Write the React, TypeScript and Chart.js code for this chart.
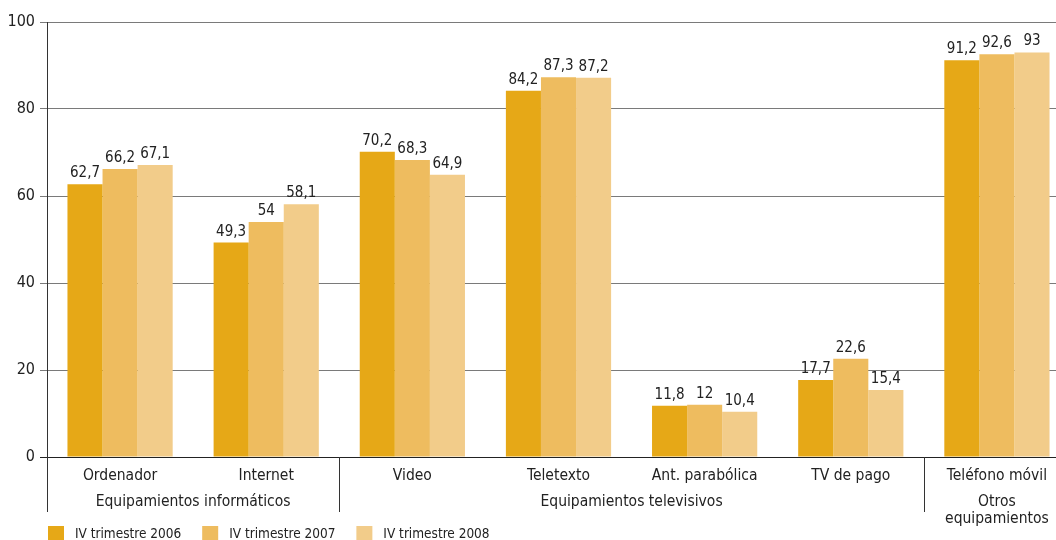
import React, { useEffect, useRef } from 'react';
import { Chart, registerables } from 'chart.js';
Chart.register(...registerables);

const FONT = "'DejaVu Sans Condensed', 'Liberation Sans Narrow', sans-serif";
const TEXT = '#222222';

const categories = ['Ordenador', 'Internet', 'Video', 'Teletexto', 'Ant. parabólica', 'TV de pago', 'Teléfono móvil'];
const seriesLabels = ['IV trimestre 2006', 'IV trimestre 2007', 'IV trimestre 2008'];
const s2006 = [62.7, 49.3, 70.2, 84.2, 11.8, 17.7, 91.2];
const s2007 = [66.2, 54, 68.3, 87.3, 12, 22.6, 92.6];
const s2008 = [67.1, 58.1, 64.9, 87.2, 10.4, 15.4, 93];
const seriesColors = ['#E6A817', '#EEBC5F', '#F2CC8A'];
const groupLabels = [['Equipamientos informáticos'], ['Equipamientos televisivos'], ['Otros', 'equipamientos']];
const groupFrom = [0, 2, 6];
const groupTo = [1, 5, 6];
const yMin = 0;
const yMax = 100;
const yStep = 20;

const fmt = (v: number) => String(v).replace('.', ',');

const overlay = {
  id: 'overlay',
  afterDraw(chart: any) {
    const ctx = chart.ctx;
    const xs = chart.scales.x;
    const area = chart.chartArea;
    ctx.save();
    // data labels
    ctx.font = `15px ${FONT}`;
    ctx.fillStyle = TEXT;
    ctx.textAlign = 'center';
    ctx.textBaseline = 'alphabetic';
    chart.data.datasets.forEach((ds: any, i: number) => {
      const meta = chart.getDatasetMeta(i);
      meta.data.forEach((bar: any, j: number) => {
        ctx.fillText(fmt(ds.data[j]), bar.x, bar.y - 7);
      });
    });
    // group labels
    ctx.font = `15.5px ${FONT}`;
    ctx.textBaseline = 'middle';
    groupLabels.forEach((lines, g) => {
      const x = (xs.getPixelForValue(groupFrom[g]) + xs.getPixelForValue(groupTo[g])) / 2;
      lines.forEach((line, k) => ctx.fillText(line, x, 502 + k * 17));
    });
    // separators
    const catW = xs.width / categories.length;
    ctx.strokeStyle = '#333';
    ctx.lineWidth = 1;
    const seps = [area.left];
    groupFrom.forEach((f, g) => { if (g > 0) seps.push(xs.getPixelForValue(f) - catW / 2); });
    seps.forEach((x) => {
      const px = Math.round(x) + 0.5;
      ctx.beginPath();
      ctx.moveTo(px, area.bottom);
      ctx.lineTo(px, 512);
      ctx.stroke();
    });
    // legend
    ctx.font = `13.5px ${FONT}`;
    ctx.textAlign = 'left';
    let lx = 48;
    chart.data.datasets.forEach((ds: any) => {
      ctx.fillStyle = ds.backgroundColor;
      ctx.fillRect(lx, 526, 16, 16);
      ctx.fillStyle = TEXT;
      ctx.fillText(ds.label, lx + 27, 534);
      lx += 27 + ctx.measureText(ds.label).width + 21;
    });
    ctx.restore();
  },
};

export default function App() {
  const ref = useRef<HTMLCanvasElement>(null);
  useEffect(() => {
    const series = [s2006, s2007, s2008];
    const chart = new Chart(ref.current as HTMLCanvasElement, {
      type: 'bar',
      data: {
        labels: categories,
        datasets: series.map((d, i) => ({
          label: seriesLabels[i],
          data: d,
          backgroundColor: seriesColors[i],
          borderWidth: 0,
          categoryPercentage: 0.72,
          barPercentage: 1,
        })),
      },
      options: {
        responsive: false,
        animation: false,
        layout: { padding: { top: 22, right: 0, left: 0, bottom: 0 } },
        plugins: { legend: { display: false }, tooltip: { enabled: false } },
        scales: {
          x: {
            grid: { display: false, drawTicks: false },
            border: { display: false },
            ticks: { font: { family: FONT, size: 15.5 }, color: TEXT, padding: 10, maxRotation: 0, autoSkip: false },
            afterFit: (s: any) => { s.height = 83; },
          },
          y: {
            min: yMin,
            max: yMax,
            ticks: { stepSize: yStep, padding: 5, font: { family: FONT, size: 16 }, color: TEXT },
            grid: {
              color: (c: any) => (c.tick && c.tick.value === 0 ? '#222' : '#7a7a7a'),
              tickLength: 7,
              drawTicks: true,
            },
            border: { display: true, color: '#333' },
            afterFit: (s: any) => { s.width = 47; },
          },
        },
      } as any,
      plugins: [overlay],
    });
    return () => chart.destroy();
  }, []);
  return (
    <div style={{ position: 'fixed', left: 0, top: 0, width: 1056, height: 540, overflow: 'hidden', background: '#fff' }}>
      <canvas ref={ref} width={1070} height={540} style={{ display: 'block' }} />
    </div>
  );
}
